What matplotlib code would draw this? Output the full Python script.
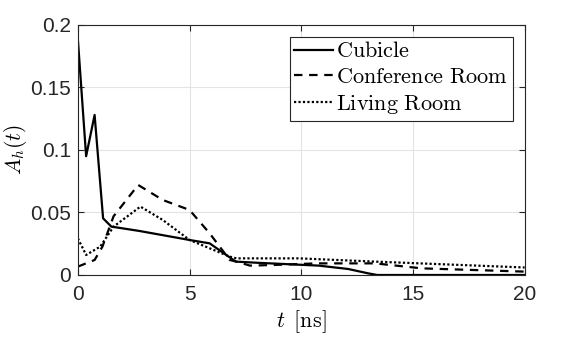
import matplotlib
matplotlib.use('Agg')
import matplotlib.pyplot as plt

# values
t_cubicle = [0, 0.37, 0.75, 1.13, 1.5, 2.76, 5.0, 5.9, 7.07, 8.0, 10.78, 12.1, 13.0, 13.4, 20]
a_cubicle = [0.1886, 0.095, 0.128, 0.0453, 0.0387, 0.0352, 0.028, 0.0253, 0.0107, 0.0098, 0.0075, 0.0048, 0.0013, 0.0, 0.0]

t_conf = [0, 0.75, 1.1, 1.6, 2.7, 3.8, 5.0, 5.9, 6.8, 7.1, 7.7, 8.76, 10.7, 13.3, 15.4, 20]
a_conf = [0.0067, 0.012, 0.0227, 0.047, 0.072, 0.06, 0.052, 0.0333, 0.012, 0.0107, 0.0075, 0.008, 0.0093, 0.0093, 0.0053, 0.0027]

t_living = [0, 0.37, 1.0, 1.6, 2.8, 3.8, 5.0, 6.8, 7.1, 9.9, 13.3, 20]
a_living = [0.0293, 0.016, 0.0227, 0.0387, 0.0547, 0.044, 0.028, 0.0147, 0.0133, 0.0133, 0.0107, 0.0060]

labels = [r'$\mathrm{Cubicle}$', r'$\mathrm{Conference\ Room}$', r'$\mathrm{Living\ Room}$']

plt.rcParams['mathtext.fontset'] = 'cm'
plt.rcParams['font.family'] = ['Liberation Sans', 'DejaVu Sans']

fig = plt.figure(figsize=(5.81, 3.37), dpi=100)
ax = fig.add_axes([0.134, 0.184, 0.769, 0.742])

ax.plot(t_cubicle, a_cubicle, color='black', lw=1.6, linestyle='-', label=labels[0])
ax.plot(t_conf, a_conf, color='black', lw=1.6, linestyle=(0, (3.8, 3.0)), label=labels[1])
ax.plot(t_living, a_living, color='black', lw=1.6, linestyle=(0, (1, 1)), label=labels[2])

ax.set_xlim(0, 20)
ax.set_ylim(0, 0.2)
ax.set_xticks([0, 5, 10, 15, 20])
ax.set_yticks([0, 0.05, 0.1, 0.15, 0.2])
ax.set_yticklabels(['0', '0.05', '0.1', '0.15', '0.2'])
ax.tick_params(direction='in', top=True, right=True, labelsize=15, length=4, colors='#262626')
ax.tick_params(axis='x', pad=7)
ax.tick_params(axis='y', pad=5)
ax.grid(True, color='#e3e3e3', lw=0.8)
ax.set_axisbelow(True)
for s in ax.spines.values():
    s.set_color('#262626')
    s.set_linewidth(0.8)

ax.set_xlabel(r'$t\ \,[\mathrm{ns}]$', fontsize=16, labelpad=3)
ax.set_ylabel(r'$A_h(t)$', fontsize=15.5)
ax.yaxis.set_label_coords(-0.11, 0.5)

leg = ax.legend(loc='upper right', bbox_to_anchor=(0.973, 0.952), fontsize=16,
                handlelength=1.75, handletextpad=0.14,
                borderpad=0.2, labelspacing=0.22, fancybox=False, framealpha=1,
                borderaxespad=0.0)
leg.get_frame().set_edgecolor('#262626')
leg.get_frame().set_linewidth(0.8)

fig.savefig('out.png', dpi=100)
